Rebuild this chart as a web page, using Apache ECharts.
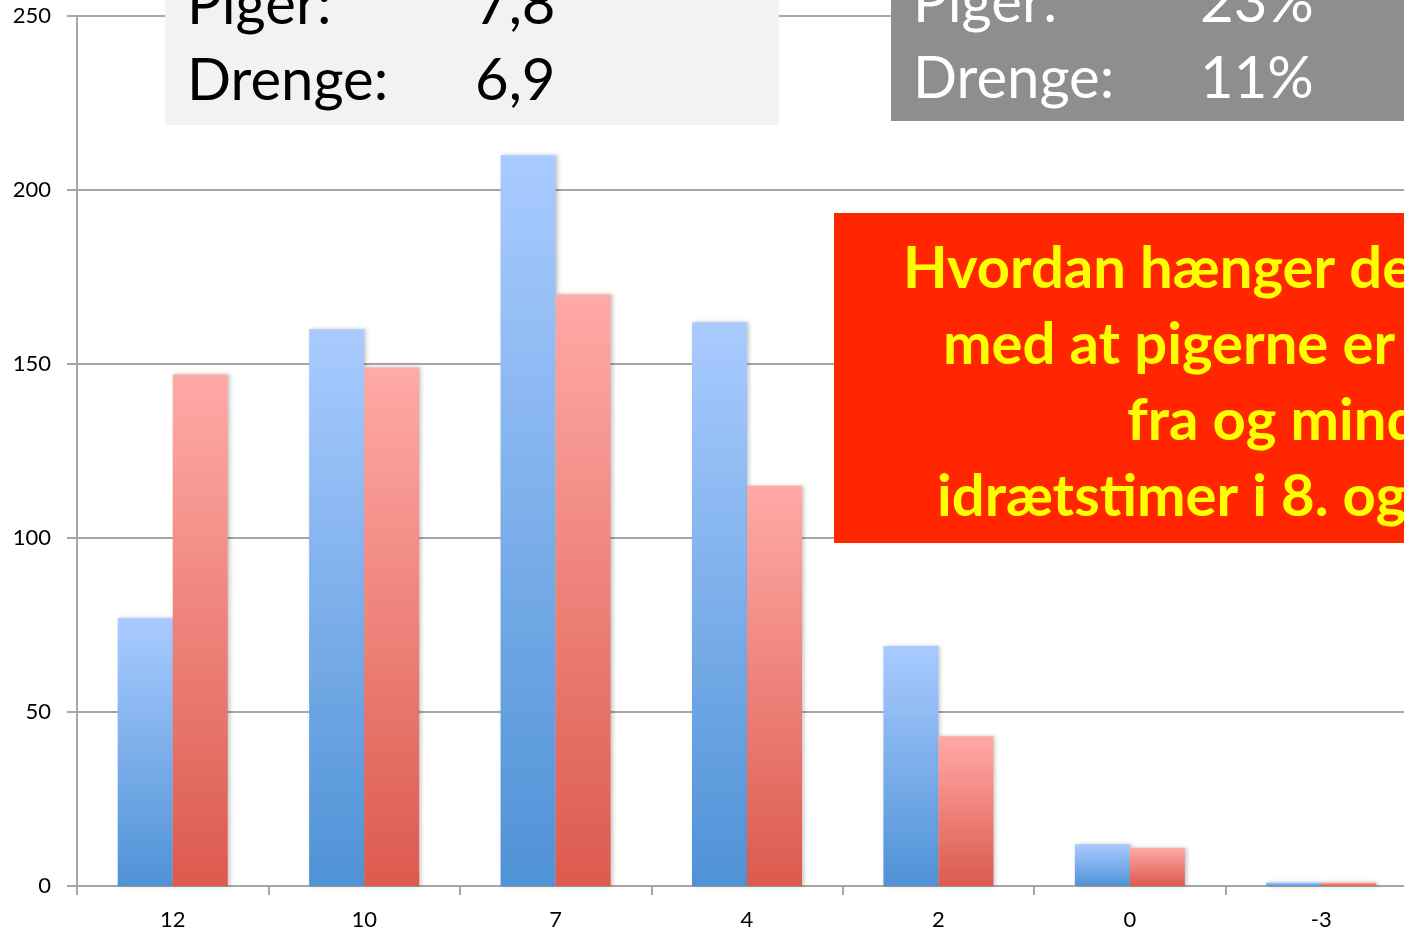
<!DOCTYPE html>
<html>
<head>
<meta charset="utf-8">
<script src="https://cdn.jsdelivr.net/npm/echarts@6/dist/echarts.min.js"></script>
<style>
  html, body { margin: 0; padding: 0; background: #fff; }
  #chart { width: 1404px; height: 933px; }
</style>
</head>
<body>
<div id="chart"></div>
<script>
const karakterer = ["12", "10", "7", "4", "2", "0", "-3"];
const drenge = [77, 160, 210, 162, 69, 12, 1];
const piger = [147, 149, 170, 115, 43, 11, 1];
const yTicks = [0, 50, 100, 150, 200, 250];

const snitLinjer = [["Piger:", "7,8"], ["Drenge:", "6,9"]];
const fravaerLinjer = [["Piger:", "23%"], ["Drenge:", "11%"]];
const spoergsmaal = ["Hvordan hænger det", "med at pigerne er", "fra og mindre", "idrætstimer i 8. og"];

const chart = echarts.init(document.getElementById("chart"));
const font = "Lato, 'Open Sans', sans-serif";
const axisGray = "#a6a6a6";

function gradient(top, bottom) {
  return new echarts.graphic.LinearGradient(0, 0, 0, 1, [
    { offset: 0, color: top },
    { offset: 1, color: bottom },
  ]);
}

function barSeries(name, data, top, bottom) {
  return {
    name: name,
    type: "bar",
    data: data,
    barWidth: 55,
    barGap: "0%",
    itemStyle: {
      color: gradient(top, bottom),
      shadowColor: "rgba(0,0,0,0.22)",
      shadowBlur: 4,
      shadowOffsetX: 2,
    },
  };
}

const graphics = [];
// snit-boks
graphics.push({ type: "rect", z: 100, shape: { x: 165, y: -10, width: 614, height: 135 }, style: { fill: "#f2f2f2" } });
snitLinjer.forEach((l, i) => {
  const y = 5 + i * 76;
  graphics.push({ type: "text", z: 101, x: 187, y: y, style: { text: l[0], font: "58px " + font, fill: "#000", verticalAlign: "middle" } });
  graphics.push({ type: "text", z: 101, x: 475, y: y, style: { text: l[1], font: "58px " + font, fill: "#000", verticalAlign: "middle" } });
});
// fravaer-boks
graphics.push({ type: "rect", z: 100, shape: { x: 891, y: -10, width: 540, height: 131 }, style: { fill: "#8e8e8e" } });
fravaerLinjer.forEach((l, i) => {
  const y = 3 + i * 76;
  graphics.push({ type: "text", z: 101, x: 913, y: y, style: { text: l[0], font: "58px " + font, fill: "#fff", verticalAlign: "middle" } });
  graphics.push({ type: "text", z: 101, x: 1200, y: y, style: { text: l[1], font: "58px " + font, fill: "#fff", verticalAlign: "middle" } });
});
// spoergsmaal-boks
graphics.push({ type: "rect", z: 100, shape: { x: 834, y: 213, width: 620, height: 330 }, style: { fill: "#ff2600" } });
const linjeX = [903, 943, 1127, 937];
spoergsmaal.forEach((t, i) => {
  graphics.push({
    type: "text", z: 101, x: linjeX[i], y: 269 + i * 76,
    style: { text: t, font: "bold 58px " + font, fill: "#ffff00", verticalAlign: "middle" },
  });
});

const option = {
  animation: false,
  backgroundColor: "#fff",
  grid: { left: 77, top: 16, width: 1340, height: 870, containLabel: false, outerBoundsMode: "none" },
  xAxis: {
    type: "category",
    data: karakterer,
    axisLine: { lineStyle: { color: axisGray, width: 2 } },
    axisTick: { show: true, length: 9, lineStyle: { color: axisGray, width: 2 } },
    axisLabel: { color: "#000", fontSize: 22, fontFamily: font, margin: 23 },
  },
  yAxis: {
    type: "value",
    min: yTicks[0],
    max: yTicks[yTicks.length - 1],
    interval: yTicks[1] - yTicks[0],
    axisLine: { show: true, lineStyle: { color: axisGray, width: 2 } },
    axisTick: { show: true, length: 10, lineStyle: { color: axisGray, width: 2 } },
    splitLine: { lineStyle: { color: axisGray, width: 2 } },
    axisLabel: { color: "#000", fontSize: 22, fontFamily: font, margin: 26, padding: [4, 0, 0, 0] },
  },
  series: [
    barSeries("Drenge", drenge, "#a9cbff", "#4f92d6"),
    barSeries("Piger", piger, "#ffaaa6", "#dc5a4e"),
  ],
  graphic: graphics,
};

chart.setOption(option);
window.onresize = function () {
  chart.resize();
};
</script>
</body>
</html>
